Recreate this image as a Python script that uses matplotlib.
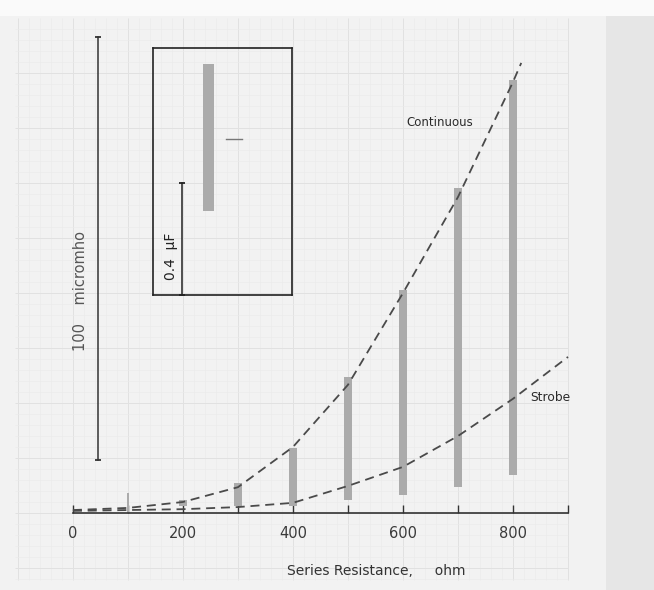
import numpy as np
import matplotlib
matplotlib.use("Agg")
from matplotlib import pyplot as plt
from matplotlib.patches import Rectangle

# series resistance (ohm) and conductance change (micromho)
resistance = [0, 100, 200, 300, 400, 500, 600, 700, 800]
cont_x = resistance + [815]
continuous = [0.7, 1.2, 2.6, 6.1, 15.6, 30.3, 52.0, 74.7, 101.9, 106.4]
strobe_x = resistance + [900]
strobe = [0.5, 0.7, 0.9, 1.4, 2.4, 6.4, 10.9, 18.2, 27.0, 36.9]

# measured spread at each resistance (gray bands)
band_x = [100, 200, 300, 400, 500, 600, 700, 800]
band_lo = [0.0, 1.7, 1.7, 1.7, 3.1, 4.3, 6.1, 9.0]
band_hi = [4.7, 3.1, 7.1, 15.4, 32.2, 52.7, 76.8, 102.4]
band_w = [3, 14, 15, 15, 16, 15, 16, 16]

tick_pos = [0, 100, 200, 300, 400, 500, 600, 700, 800, 900]
tick_labels = ['0', '', '200', '', '400', '', '600', '', '800', '']

# conductance scale bar
scale_x = 46
scale_y = [12.5, 112.5]

# inset: capacitance (uF)
inset_band = [0.302, 0.828]
inset_mark = 0.558
inset_scale = [0.0, 0.4]

W, H = 654, 590
fig = plt.figure(figsize=(W / 100, H / 100), dpi=100)
fig.patch.set_facecolor('#f2f2f2')

# graph paper background
bg = fig.add_axes([0, 0, 1, 1], zorder=-5)
bg.set_xlim(0, W)
bg.set_ylim(H, 0)
bg.axis('off')
bg.add_patch(Rectangle((0, 0), W, 16, color='#fafafa', lw=0))
bg.add_patch(Rectangle((606, 16), W - 606, H, color='#e6e6e6', lw=0))
x0, y0, step = 72.9, 513.0, 11.0
for i in range(-5, 46):
    gx = x0 + i * step
    if 15 < gx < 569:
        major = i % 5 == 0
        bg.vlines(gx, 18, 580, color='#e1e1e1' if major else '#eaeaea', lw=0.7 if major else 0.4)
for j in range(-6, 46):
    gy = y0 - j * step
    if 18 < gy < 581:
        major = j % 5 == 0
        bg.hlines(gy, 15, 568, color='#e1e1e1' if major else '#eaeaea', lw=0.7 if major else 0.4)

# main axes: pixel 72.9 -> 0 ohm, 568 -> 900 ohm; y 513 -> 0, 4.23 px per micromho
ax = fig.add_axes([72.9 / W, (H - 513) / H, (568 - 72.9) / W, (513 - 20) / H])
ax.patch.set_alpha(0)
ax.set_xlim(0, 900)
ax.set_ylim(0, (513 - 20) / 4.23)
for s in ['left', 'right', 'top']:
    ax.spines[s].set_visible(False)
ax.spines['bottom'].set_color('#333333')
ax.spines['bottom'].set_linewidth(1.2)
ax.set_yticks([])
ax.set_xticks(tick_pos)
ax.set_xticklabels(tick_labels)
ax.tick_params(axis='x', direction='in', length=5.5, width=1, color='#333333',
               pad=9, labelsize=10.5, labelcolor='#3a3a3a')

ax.bar(band_x, np.array(band_hi) - np.array(band_lo), bottom=band_lo, width=band_w,
       color='#ababab', lw=0, zorder=2)

ax.plot(cont_x, continuous, color='#4a4a4a', lw=1.3, dashes=(5, 3.2), zorder=3, clip_on=False)
ax.plot(strobe_x, strobe, color='#4a4a4a', lw=1.3, dashes=(5, 3.2), zorder=3, clip_on=False)

ax.text(667, 92.2, 'Continuous', fontsize=8.5, color='#2a2a2a', ha='center', va='center')
ax.text(868, 27.4, 'Strobe', fontsize=8.8, color='#2a2a2a', ha='center', va='center')

ax.plot([scale_x, scale_x], scale_y, color='#333333', lw=1.1, marker='_', ms=5, mew=1.3, clip_on=False)
ax.text(13, 52.5, '100    micromho', rotation=90, fontsize=10.5, color='#555555',
        ha='center', va='center')

ax.set_xlabel('Series Resistance,     ohm', fontsize=10, color='#333333')
ax.xaxis.set_label_coords((376 - 72.9) / (568 - 72.9), -(571 - 513) / (513 - 20))
ax.xaxis.label.set_va('center')

# inset
ins = fig.add_axes([153 / W, (H - 295) / H, 138.5 / W, 247 / H])
ins.patch.set_alpha(0)
ins.set_xlim(0, 1)
ins.set_ylim(0, 247 / 279)
ins.set_xticks([])
ins.set_yticks([])
for s in ins.spines.values():
    s.set_linewidth(1.2)
    s.set_color('#222222')
ins.bar([0.404], [inset_band[1] - inset_band[0]], bottom=inset_band[0], width=0.08,
        color='#ababab', lw=0)
ins.plot([0.53, 0.64], [inset_mark, inset_mark], color='#777777', lw=1)
ins.plot([0.207, 0.207], inset_scale, color='#222222', lw=1.1, marker='_', ms=5, mew=1.3, clip_on=False)
ins.text(0.128, 0.14, '0.4  \u03bcF', rotation=90, fontsize=10, color='#222222',
         ha='center', va='center')

fig.savefig('out.png', dpi=100, facecolor=fig.get_facecolor())
